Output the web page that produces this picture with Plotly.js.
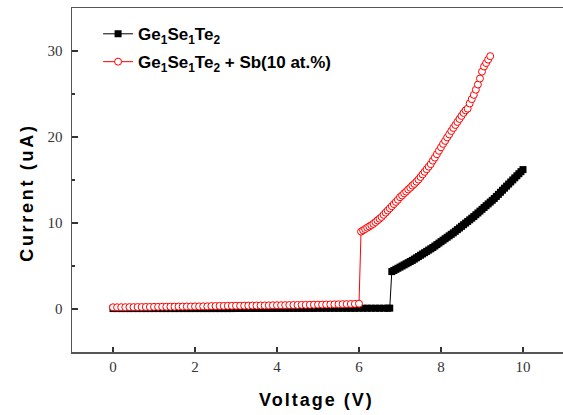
<!DOCTYPE html>
<html>
<head>
<meta charset="utf-8">
<script src="https://cdn.plot.ly/plotly-3.0.1.min.js"></script>
<style>
html,body{margin:0;padding:0;overflow:hidden;background:#fff;width:563px;height:415px;}
#chart{width:600px;height:415px;}
</style>
</head>
<body>
<div id="chart"></div>
<script>
// ---- Data ----
var seriesNames = ["Ge<sub>1</sub>Se<sub>1</sub>Te<sub>2</sub>", "Ge<sub>1</sub>Se<sub>1</sub>Te<sub>2</sub> + Sb(10 at.%)"];

// Ge1Se1Te2 : off state
var blackLowX = [0,0.1,0.2,0.3,0.4,0.5,0.6,0.7,0.8,0.9,
  1.0,1.1,1.2,1.3,1.4,1.5,1.6,1.7,1.8,1.9,
  2.0,2.1,2.2,2.3,2.4,2.5,2.6,2.7,2.8,2.9,
  3.0,3.1,3.2,3.3,3.4,3.5,3.6,3.7,3.8,3.9,
  4.0,4.1,4.2,4.3,4.4,4.5,4.6,4.7,4.8,4.9,
  5.0,5.1,5.2,5.3,5.4,5.5,5.6,5.7,5.8,5.9,
  6.0,6.1,6.2,6.3,6.4,6.5,6.6,6.7,6.75];
var blackLowY = [0.05,0.05,0.05,0.05,0.05,0.05,0.05,0.05,0.05,0.05,
  0.05,0.05,0.05,0.05,0.05,0.05,0.05,0.05,0.05,0.05,
  0.05,0.05,0.05,0.05,0.05,0.05,0.05,0.05,0.05,0.05,
  0.06,0.06,0.06,0.06,0.06,0.06,0.06,0.06,0.06,0.06,
  0.07,0.07,0.07,0.07,0.07,0.07,0.07,0.07,0.07,0.07,
  0.08,0.08,0.08,0.08,0.08,0.08,0.08,0.08,0.08,0.08,
  0.09,0.09,0.09,0.09,0.09,0.09,0.09,0.09,0.10];
// Ge1Se1Te2 : on state
var blackHighX = [6.80,6.85,6.90,6.95,7.00,7.05,7.10,7.15,7.20,7.25,7.30,
  7.35,7.40,7.45,7.50,7.55,7.60,7.65,7.70,7.75,7.80,
  7.85,7.90,7.95,8.00,8.05,8.10,8.15,8.20,8.25,8.30,
  8.35,8.40,8.45,8.50,8.55,8.60,8.65,8.70,8.75,8.80,
  8.85,8.90,8.95,9.00,9.05,9.10,9.15,9.20,9.25,9.30,
  9.35,9.40,9.45,9.50,9.55,9.60,9.65,9.70,9.75,9.80,9.85,9.90,9.95,10.00];
var blackHighY = [4.35,4.48,4.61,4.74,4.87,5.00,5.13,5.26,5.39,5.52,5.65,
  5.80,5.95,6.10,6.25,6.40,6.55,6.70,6.85,7.00,7.15,
  7.32,7.49,7.66,7.83,8.00,8.17,8.34,8.51,8.68,8.85,
  9.04,9.23,9.42,9.61,9.80,9.99,10.18,10.37,10.56,10.75,
  10.96,11.17,11.38,11.59,11.80,12.01,12.22,12.43,12.64,12.85,
  13.09,13.33,13.57,13.81,14.05,14.29,14.53,14.77,15.01,15.25,15.49,15.73,15.97,16.21];

// Ge1Se1Te2 + Sb : off state
var redLowX = [0,0.1,0.2,0.3,0.4,0.5,0.6,0.7,0.8,0.9,
  1.0,1.1,1.2,1.3,1.4,1.5,1.6,1.7,1.8,1.9,
  2.0,2.1,2.2,2.3,2.4,2.5,2.6,2.7,2.8,2.9,
  3.0,3.1,3.2,3.3,3.4,3.5,3.6,3.7,3.8,3.9,
  4.0,4.1,4.2,4.3,4.4,4.5,4.6,4.7,4.8,4.9,
  5.0,5.1,5.2,5.3,5.4,5.5,5.6,5.7,5.8,5.9,6.0];
var redLowY = [0.20,0.20,0.21,0.21,0.22,0.22,0.23,0.23,0.24,0.24,
  0.25,0.25,0.26,0.26,0.27,0.27,0.28,0.28,0.29,0.29,
  0.30,0.30,0.31,0.31,0.34,0.35,0.36,0.36,0.37,0.37,
  0.38,0.38,0.39,0.39,0.40,0.40,0.41,0.41,0.42,0.43,
  0.44,0.44,0.45,0.46,0.46,0.47,0.48,0.48,0.49,0.50,
  0.51,0.51,0.52,0.53,0.54,0.55,0.56,0.57,0.58,0.60,0.62];
// Ge1Se1Te2 + Sb : on state
var redHighX = [6.05,6.10,6.15,6.20,6.25,6.30,6.35,6.40,6.45,6.50,
  6.55,6.60,6.65,6.70,6.75,6.80,6.85,6.90,6.95,7.00,
  7.05,7.10,7.15,7.20,7.25,7.30,7.35,7.40,7.45,7.50,
  7.55,7.60,7.65,7.70,7.75,7.80,7.85,7.90,7.95,8.00,
  8.05,8.10,8.15,8.20,8.25,8.30,8.35,8.40,8.45,8.50,
  8.55,8.60,8.65,8.70,8.75,8.80,8.85,8.90,8.95,9.00,
  9.05,9.10,9.15,9.20];
var redHighY = [9.00,9.15,9.30,9.45,9.60,9.75,9.90,10.10,10.30,10.50,
  10.70,10.95,11.20,11.45,11.70,11.95,12.20,12.45,12.70,13.00,
  13.20,13.45,13.65,13.90,14.10,14.35,14.55,14.80,15.05,15.35,
  15.65,15.95,16.25,16.55,16.85,17.25,17.60,18.00,18.40,18.80,
  19.20,19.55,19.95,20.30,20.70,21.05,21.40,21.75,22.10,22.45,
  22.80,23.10,23.30,23.90,24.40,24.90,25.50,26.10,26.80,27.60,
  28.20,28.60,29.00,29.40];

var xTicks = [0,2,4,6,8,10];
var yTicks = [0,10,20,30];

// ---- Build traces ----
var blackX = blackLowX.concat(blackHighX), blackY = blackLowY.concat(blackHighY);
var redX = redLowX.concat(redHighX), redY = redLowY.concat(redHighY);

var traces = [
  {x: blackX, y: blackY, name: seriesNames[0], type: 'scatter', mode: 'lines+markers', legend: 'legend',
   line: {color: '#000', width: 1},
   marker: {symbol: 'square', size: 7, color: '#000', line: {color: '#000', width: 0}}},
  {x: redX, y: redY, name: seriesNames[1], type: 'scatter', mode: 'lines+markers', legend: 'legend2',
   line: {color: '#ff0000', width: 1},
   marker: {symbol: 'circle', size: 7, color: '#ffffff', line: {color: '#ff0000', width: 1}}}
];

var legFont = {family: '"Liberation Sans", Arial, sans-serif', size: 17, color: '#000', weight: 'bold'};
var tickFont = {family: '"Liberation Serif", "Times New Roman", serif', size: 15, color: '#333'};
var titleFont = {family: '"Liberation Sans", Arial, sans-serif', size: 18, color: '#000', weight: 'bold'};
var layout = {
  width: 600, height: 415,
  margin: {l: 72, r: 36, t: 8, b: 63},
  paper_bgcolor: '#fff', plot_bgcolor: '#fff',
  showlegend: true,
  legend: {x: 0.053, y: 0.976, xanchor: 'left', yanchor: 'top', bgcolor: 'rgba(0,0,0,0)', font: legFont},
  legend2: {x: 0.053, y: 0.895, xanchor: 'left', yanchor: 'top', bgcolor: 'rgba(0,0,0,0)', font: legFont},
  xaxis: {range: [-1, 11], tickvals: xTicks, ticktext: xTicks.map(String),
    ticks: 'inside', ticklen: 5, tickwidth: 1.5, tickcolor: '#333',
    showline: true, linecolor: '#555', linewidth: 1.5, mirror: true,
    showgrid: false, zeroline: false, tickfont: tickFont},
  yaxis: {range: [-5, 35], tickvals: yTicks, ticktext: yTicks.map(String),
    ticks: 'inside', ticklen: 6, tickwidth: 1.5, tickcolor: '#333', ticklabelstandoff: 5,
    minor: {dtick: 10, tick0: 5, ticks: 'inside', ticklen: 3, tickwidth: 1.5, tickcolor: '#333', showgrid: false},
    showline: true, linecolor: '#555', linewidth: 1.5, mirror: true,
    showgrid: false, zeroline: false, tickfont: tickFont},
  annotations: [
    {text: 'Voltage (V)', xref: 'paper', yref: 'paper', x: 0.497, y: -0.1395,
     xanchor: 'center', yanchor: 'middle', showarrow: false, font: titleFont},
    {text: 'Current (uA)', xref: 'paper', yref: 'paper', x: -0.091, y: 0.464, textangle: -90,
     xanchor: 'center', yanchor: 'middle', showarrow: false, font: titleFont}
  ]
};

Plotly.newPlot('chart', traces, layout, {displayModeBar: false, staticPlot: true}).then(function(){
  var t = document.querySelectorAll('.annotation-text');
  if (t[0]) t[0].style.letterSpacing = '2px';
  if (t[1]) t[1].style.letterSpacing = '2.7px';
});
</script>
</body>
</html>
